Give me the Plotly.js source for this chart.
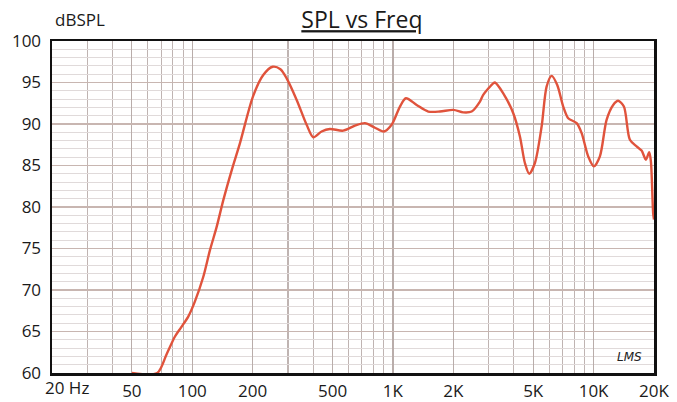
<!DOCTYPE html>
<html>
<head>
<meta charset="utf-8">
<script src="https://cdn.plot.ly/plotly-3.0.1.min.js"></script>
<style>html,body{margin:0;padding:0;background:#fff;}#chart{width:677px;height:402px;}</style>
</head>
<body>
<div id="chart"></div>
<script>
// Frequency response data (Hz, dB SPL)
const freqHz = [50, 66.9, 74.6, 82, 88, 95.5, 103, 113.5, 122.5, 132.3, 142.7, 158, 172.9, 200.6, 225.8, 251.6, 275, 295.4, 331.4, 371.6, 401, 441, 485, 565, 647, 725, 814, 902, 985, 1084, 1161, 1313, 1500, 1715, 2000, 2240, 2468, 2714, 2818, 3160, 3224, 3546, 3978, 4294, 4546, 4778, 5100, 5508, 5832, 6176, 6589, 7057, 7472, 8234, 8718, 9400, 10036, 10750, 11608, 12522, 13260, 14158, 15168, 16380, 17350, 18226, 18930, 19300, 19816, 20000];
const splDb  = [60, 60, 62.3, 64.4, 65.5, 66.8, 68.6, 71.6, 74.8, 77.6, 80.8, 84.6, 87.7, 93.3, 95.9, 96.9, 96.6, 95.5, 92.9, 89.9, 88.4, 89.1, 89.4, 89.2, 89.8, 90.1, 89.55, 89.1, 89.9, 92.1, 93.1, 92.3, 91.5, 91.5, 91.7, 91.4, 91.5, 92.7, 93.5, 94.9, 95.0, 93.7, 91.3, 88.5, 85.3, 84.0, 85.3, 89.7, 94.5, 95.8, 94.7, 92.1, 90.7, 90.1, 88.9, 86.1, 84.9, 86.1, 90.5, 92.3, 92.8, 92.1, 88.1, 87.3, 86.8, 85.7, 86.6, 85.5, 79.2, 78.5];

const xTickVals = [20, 50, 100, 200, 500, 1000, 2000, 5000, 10000, 20000];
const xTickText = ['', '50', '100', '200', '500', '1K', '2K', '5K', '10K', '20K'];
const xMinorVals = [30, 40, 60, 70, 80, 90, 300, 400, 600, 700, 800, 900, 3000, 4000, 6000, 7000, 8000, 9000];
const yTickVals = [60, 65, 70, 75, 80, 85, 90, 95, 100];
const firstTickLabel = '20 Hz';

const font = 'Open Sans, Noto Sans, sans-serif';

Plotly.newPlot('chart', [{
  x: freqHz,
  y: splDb,
  type: 'scatter',
  mode: 'lines',
  line: {color: '#e0533c', width: 2.4, shape: 'spline', smoothing: 0.8},
  hoverinfo: 'skip'
}], {
  width: 677,
  height: 402,
  margin: {l: 52, r: 23, t: 41, b: 29, pad: 0},
  paper_bgcolor: '#ffffff',
  plot_bgcolor: '#ffffff',
  showlegend: false,
  title: {
    text: '<u>SPL vs Freq</u>',
    font: {family: font, size: 23, color: '#1a1a1a'},
    x: 0.5148, xref: 'paper', xanchor: 'center',
    y: 0.95, yref: 'container', yanchor: 'middle'
  },
  xaxis: {
    type: 'log',
    range: [Math.log10(20), Math.log10(20000)],
    tickmode: 'array',
    tickvals: xTickVals,
    ticktext: xTickText,
    ticks: '',
    tickfont: {family: font, size: 17, color: '#1a1a1a'},
    ticklabelstandoff: 1,
    showgrid: true,
    gridcolor: '#b9adaa',
    gridwidth: 1.2,
    minor: {tickmode: 'array', tickvals: xMinorVals, showgrid: true, gridcolor: '#bfb4b2', gridwidth: 1.1, ticks: ''},
    showline: true,
    linecolor: '#111111',
    linewidth: 2.5,
    mirror: true,
    zeroline: false,
    layer: 'below traces',
    fixedrange: true
  },
  yaxis: {
    range: [60, 100],
    tickmode: 'array',
    tickvals: yTickVals,
    ticks: '',
    tickfont: {family: font, size: 17, color: '#1a1a1a'},
    ticklabelstandoff: 5,
    showgrid: true,
    gridcolor: '#c8b6b1',
    gridwidth: 1.5,
    minor: {dtick: 1, showgrid: true, gridcolor: '#e0dada', gridwidth: 1, ticks: ''},
    showline: true,
    linecolor: '#111111',
    linewidth: 2.5,
    mirror: true,
    zeroline: false,
    layer: 'below traces',
    fixedrange: true
  },
  annotations: [
    {text: 'dBSPL', xref: 'paper', yref: 'paper', x: 0.0, y: 1.0, xanchor: 'left', yanchor: 'bottom', yshift: 8, xshift: 1,
     showarrow: false, font: {family: font, size: 17, color: '#1a1a1a'}},
    {text: firstTickLabel, xref: 'x', yref: 'paper', x: Math.log10(20), y: 0, xanchor: 'center', yanchor: 'top',
     xshift: 15, yshift: -1, showarrow: false, font: {family: font, size: 17, color: '#1a1a1a'}},
    {text: '<i>LMS</i>', xref: 'paper', yref: 'paper', x: 0.983, y: 0.02, xanchor: 'right', yanchor: 'bottom',
     showarrow: false, font: {family: 'DejaVu Sans, sans-serif', size: 12, color: '#222'}}
  ]
}, {staticPlot: true});
</script>
</body>
</html>
